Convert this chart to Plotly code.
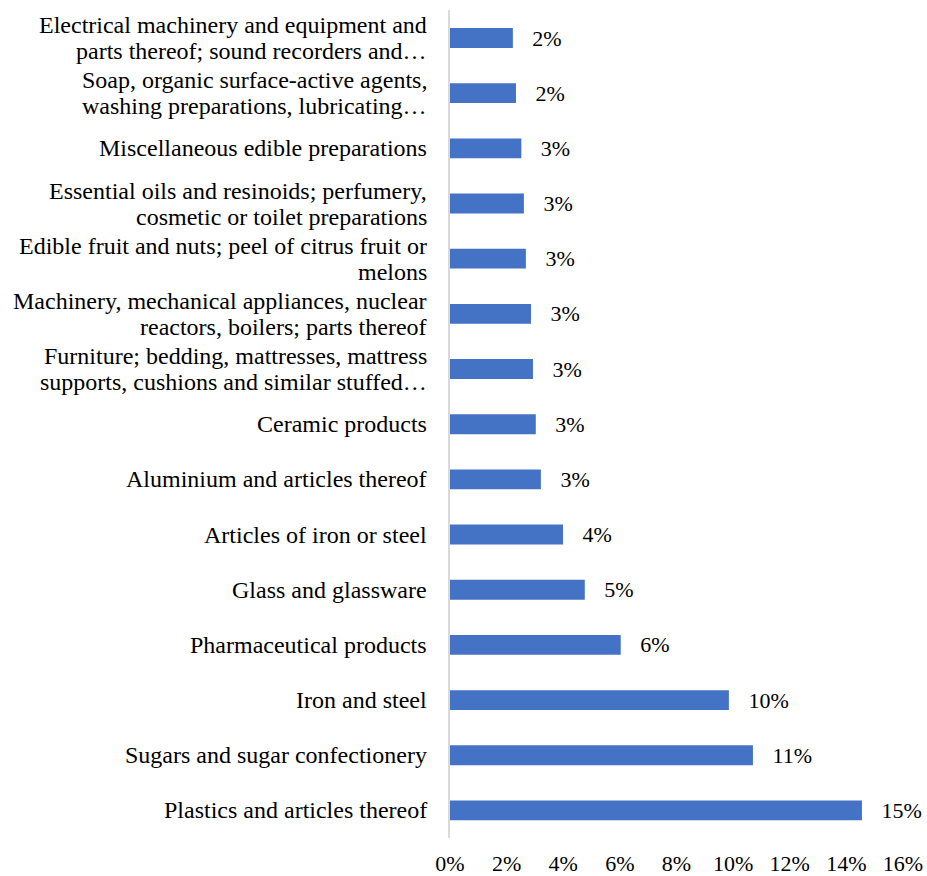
import plotly.graph_objects as go

categories = [
    "Electrical machinery and equipment and<br>parts thereof; sound recorders and…",
    "Soap, organic surface-active agents,<br>washing preparations, lubricating…",
    "Miscellaneous edible preparations",
    "Essential oils and resinoids; perfumery,<br>cosmetic or toilet preparations",
    "Edible fruit and nuts; peel of citrus fruit or<br>melons",
    "Machinery, mechanical appliances, nuclear<br>reactors, boilers; parts thereof",
    "Furniture; bedding, mattresses, mattress<br>supports, cushions and similar stuffed…",
    "Ceramic products",
    "Aluminium and articles thereof",
    "Articles of iron or steel",
    "Glass and glassware",
    "Pharmaceutical products",
    "Iron and steel",
    "Sugars and sugar confectionery",
    "Plastics and articles thereof",
]
shares = [0.0222, 0.0233, 0.0252, 0.0261, 0.0268, 0.0286, 0.0293, 0.0303,
          0.0321, 0.0399, 0.0476, 0.0603, 0.0985, 0.1070, 0.1455]
x_ticks = [0, 0.02, 0.04, 0.06, 0.08, 0.10, 0.12, 0.14, 0.16]

FONT = "Liberation Serif, Times New Roman, serif"

fig = go.Figure(go.Bar(
    y=categories, x=shares, orientation="h",
    marker=dict(color="#4472C4", line=dict(width=0)),
    text=[f"{v:.0%}" for v in shares],
    texttemplate="   %{text}",
    textposition="outside", cliponaxis=False, constraintext="none",
    textfont=dict(family=FONT, size=22, color="#000000"),
    outsidetextfont=dict(family=FONT, size=22, color="#000000"),
    width=0.36,
))

# category labels as right-aligned annotations (tighter line spacing than tick labels)
LINE_GAP = 26
for cat in categories:
    lines = cat.split("<br>")
    n = len(lines)
    for i, line in enumerate(lines):
        offset = ((n - 1) / 2 - i) * LINE_GAP
        fig.add_annotation(
            x=0, xref="paper", y=cat, yref="y",
            text=line, showarrow=False,
            xanchor="right", yanchor="middle",
            xshift=-21, yshift=offset,
            font=dict(family=FONT, size=24, color="#000000"),
        )

fig.update_layout(
    width=927, height=876,
    margin=dict(l=450, r=24, t=10, b=38),
    paper_bgcolor="white", plot_bgcolor="white",
    font=dict(family=FONT, size=22, color="#000000"),
    showlegend=False,
    xaxis=dict(range=[0, 0.16], tickvals=x_ticks, tickformat=".0%",
               showgrid=False, zeroline=False, showline=False,
               ticks="", ticklabelstandoff=10, automargin=False,
               tickfont=dict(family=FONT, size=22)),
    yaxis=dict(autorange="reversed", showgrid=False, zeroline=False,
               showline=True, linecolor="#D9D9D9", linewidth=2,
               ticks="", showticklabels=False, automargin=False),
)

fig.write_html("out.html", config={"displayModeBar": False},
               post_script="document.body.style.margin='0';document.body.style.overflow='hidden';")
